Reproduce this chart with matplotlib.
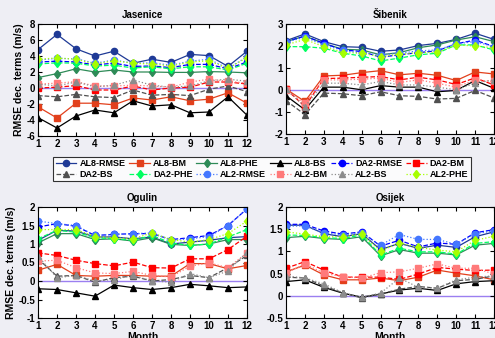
import matplotlib
matplotlib.use("Agg")
import matplotlib.pyplot as plt
from matplotlib.ticker import FormatStrFormatter

months = list(range(1, 13))

series_names = ["AL8-RMSE", "AL8-BM", "AL8-PHE", "AL8-BS",
                "DA2-RMSE", "DA2-BM", "DA2-BS", "DA2-PHE",
                "AL2-RMSE", "AL2-BM", "AL2-BS", "AL2-PHE"]

# values, one dict per station
jasenice = {
    "AL8-RMSE": [4.8, 6.7, 4.9, 4.0, 4.6, 3.1, 3.6, 3.2, 4.2, 4.05, 2.7, 4.6],
    "AL8-BM":   [-2.35, -3.75, -1.9, -1.9, -2.1, -1.25, -1.5, -1.1, -1.6, -1.4, -0.6, -1.9],
    "AL8-PHE":  [1.3, 1.8, 2.4, 2.0, 2.25, 2.0, 2.0, 1.95, 1.95, 2.05, 2.0, 1.9],
    "AL8-BS":   [-3.7, -5.0, -3.5, -2.75, -3.1, -1.6, -2.25, -2.1, -3.1, -3.0, -1.1, -3.4],
    "DA2-RMSE": [3.25, 3.35, 3.25, 2.9, 3.1, 2.7, 2.75, 2.55, 2.95, 2.95, 2.4, 3.25],
    "DA2-BM":   [0.0, 0.1, 0.3, -0.25, -0.25, 0.25, -0.25, 0.0, 0.1, 0.75, 0.75, 0.5],
    "DA2-BS":   [-0.95, -1.1, -0.8, -1.1, -1.2, -0.25, -0.9, -0.8, -0.95, -0.15, 0.25, -0.45],
    "DA2-PHE":  [3.0, 3.15, 3.1, 2.75, 2.85, 2.5, 2.65, 2.4, 2.65, 2.65, 2.25, 3.1],
    "AL2-RMSE": [3.5, 3.7, 3.65, 3.1, 3.5, 3.1, 3.15, 2.85, 3.35, 3.6, 2.45, 3.9],
    "AL2-BM":   [0.5, 0.6, 0.8, 0.25, 0.25, 0.35, 0.25, 0.1, 0.75, 1.1, 0.85, 0.6],
    "AL2-BS":   [0.5, 0.25, 0.75, 0.15, 0.35, 1.0, 0.35, 0.1, 0.25, 0.9, 1.1, 0.85],
    "AL2-PHE":  [3.6, 3.75, 3.6, 3.0, 3.4, 3.1, 3.0, 2.75, 3.25, 3.4, 2.45, 3.8],
}

sibenik = {
    "AL8-RMSE": [2.24, 2.55, 2.2, 1.97, 1.94, 1.76, 1.82, 2.02, 2.12, 2.3, 2.58, 2.3],
    "AL8-BM":   [0.04, -0.52, 0.64, 0.67, 0.79, 0.88, 0.69, 0.76, 0.67, 0.43, 0.82, 0.73],
    "AL8-PHE":  [2.2, 2.45, 2.12, 1.85, 1.82, 1.6, 1.7, 1.92, 2.05, 2.27, 2.42, 2.2],
    "AL8-BS":   [-0.26, -0.9, 0.13, 0.13, 0.01, 0.2, 0.13, 0.13, -0.08, -0.02, 0.43, 0.08],
    "DA2-RMSE": [2.2, 2.45, 2.12, 1.82, 1.75, 1.49, 1.6, 1.7, 1.78, 2.1, 2.27, 1.97],
    "DA2-BM":   [0.04, -0.75, 0.52, 0.54, 0.58, 0.61, 0.46, 0.58, 0.46, 0.25, 0.55, 0.23],
    "DA2-BS":   [-0.48, -1.12, -0.14, -0.17, -0.26, -0.08, -0.26, -0.29, -0.41, -0.38, -0.02, -0.36],
    "DA2-PHE":  [1.97, 1.97, 1.9, 1.67, 1.55, 1.32, 1.45, 1.6, 1.67, 2.05, 2.05, 1.82],
    "AL2-RMSE": [2.17, 2.4, 2.05, 1.8, 1.67, 1.6, 1.67, 1.78, 1.82, 2.1, 2.2, 1.97],
    "AL2-BM":   [-0.02, -0.6, 0.46, 0.46, 0.49, 0.54, 0.34, 0.46, 0.31, 0.13, 0.46, 0.39],
    "AL2-BS":   [0.04, -0.75, 0.31, 0.31, 0.23, 0.39, 0.23, 0.23, 0.13, 0.01, 0.31, 0.46],
    "AL2-PHE":  [2.05, 2.3, 1.97, 1.7, 1.67, 1.52, 1.62, 1.7, 1.72, 2.05, 2.0, 1.92],
}

ogulin = {
    "AL8-RMSE": [1.1, 1.37, 1.35, 1.19, 1.19, 1.14, 1.19, 1.0, 1.05, 1.1, 1.17, 1.2],
    "AL8-BM":   [0.29, 0.45, 0.15, 0.13, 0.15, 0.15, 0.13, 0.13, 0.47, 0.47, 0.33, 0.42],
    "AL8-PHE":  [1.03, 1.28, 1.28, 1.12, 1.14, 1.08, 1.17, 0.99, 0.96, 1.0, 1.12, 1.12],
    "AL8-BS":   [-0.21, -0.23, -0.32, -0.41, -0.11, -0.18, -0.23, -0.18, -0.09, -0.13, -0.18, -0.16],
    "DA2-RMSE": [1.46, 1.55, 1.48, 1.23, 1.26, 1.28, 1.28, 1.12, 1.17, 1.23, 1.5, 1.95],
    "DA2-BM":   [0.76, 0.69, 0.56, 0.47, 0.41, 0.51, 0.36, 0.35, 0.6, 0.6, 0.85, 1.21],
    "DA2-BS":   [0.6, 0.13, 0.15, -0.03, 0.09, 0.13, 0.0, 0.04, 0.15, 0.09, 0.36, 0.69],
    "DA2-PHE":  [1.14, 1.37, 1.32, 1.17, 1.14, 1.1, 1.23, 1.03, 0.96, 1.0, 1.19, 1.39],
    "AL2-RMSE": [1.62, 1.55, 1.5, 1.23, 1.26, 1.28, 1.3, 1.1, 1.14, 1.2, 1.5, 1.95],
    "AL2-BM":   [0.54, 0.56, 0.36, 0.22, 0.2, 0.26, 0.15, 0.11, 0.4, 0.49, 0.36, 0.76],
    "AL2-BS":   [0.67, 0.09, 0.15, 0.0, 0.04, 0.15, 0.0, -0.03, 0.2, 0.09, 0.27, 0.78],
    "AL2-PHE":  [1.39, 1.39, 1.39, 1.2, 1.17, 1.14, 1.3, 1.12, 1.05, 1.12, 1.28, 1.62],
}

osijek = {
    "AL8-RMSE": [1.59, 1.59, 1.4, 1.33, 1.4, 1.04, 1.18, 1.07, 1.14, 1.09, 1.33, 1.44],
    "AL8-BM":   [0.54, 0.69, 0.47, 0.36, 0.36, 0.4, 0.34, 0.42, 0.58, 0.51, 0.45, 0.36],
    "AL8-PHE":  [1.31, 1.34, 1.29, 1.27, 1.33, 0.9, 1.04, 0.96, 0.96, 0.92, 1.14, 1.18],
    "AL8-BS":   [0.32, 0.36, 0.19, 0.06, -0.03, 0.04, 0.13, 0.17, 0.12, 0.27, 0.32, 0.34],
    "DA2-RMSE": [1.61, 1.61, 1.46, 1.39, 1.44, 1.12, 1.25, 1.1, 1.19, 1.16, 1.42, 1.49],
    "DA2-BM":   [0.62, 0.77, 0.58, 0.42, 0.42, 0.42, 0.37, 0.49, 0.64, 0.6, 0.57, 0.58],
    "DA2-BS":   [0.42, 0.4, 0.22, 0.07, -0.05, 0.04, 0.15, 0.21, 0.17, 0.34, 0.37, 0.45],
    "DA2-PHE":  [1.37, 1.36, 1.31, 1.29, 1.37, 0.92, 1.07, 0.99, 0.99, 0.94, 1.18, 1.22],
    "AL2-RMSE": [1.57, 1.57, 1.42, 1.37, 1.42, 1.14, 1.38, 1.27, 1.27, 1.16, 1.4, 1.46],
    "AL2-BM":   [0.51, 0.72, 0.51, 0.43, 0.4, 0.52, 0.54, 0.62, 0.72, 0.62, 0.62, 0.49],
    "AL2-BS":   [0.45, 0.4, 0.27, 0.07, -0.03, 0.06, 0.4, 0.19, 0.17, 0.36, 0.42, 0.45],
    "AL2-PHE":  [1.44, 1.39, 1.33, 1.33, 1.39, 1.01, 1.19, 1.09, 1.03, 0.99, 1.25, 1.34],
}

# (color, linestyle, marker) per series
styles = {
    "AL8-RMSE": ("#1f3a96", "-", "o"),
    "AL8-BM":   ("#e2401c", "-", "s"),
    "AL8-PHE":  ("#2e8b57", "-", "d"),
    "AL8-BS":   ("#000000", "-", "^"),
    "DA2-RMSE": ("#0000ff", "--", "o"),
    "DA2-BM":   ("#ff0000", "--", "s"),
    "DA2-BS":   ("#505050", "--", "^"),
    "DA2-PHE":  ("#00ff60", "--", "d"),
    "AL2-RMSE": ("#4477ff", ":", "o"),
    "AL2-BM":   ("#ff7a7a", ":", "s"),
    "AL2-BS":   ("#8c8c8c", ":", "^"),
    "AL2-PHE":  ("#a6ff00", ":", "d"),
}

plt.rcParams["font.family"] = "Liberation Sans"
plt.rcParams["font.weight"] = "bold"
plt.rcParams["axes.unicode_minus"] = False

W, H = 495, 338
fig = plt.figure(figsize=(W / 100, H / 100), dpi=100, facecolor="#eeeef4")

def px_axes(x0, y0, x1, y1):
    return fig.add_axes([x0 / W, 1 - y1 / H, (x1 - x0) / W, (y1 - y0) / H])

panels = [
    (jasenice, "Jasenice", (38, 24, 247, 136), (-6, 8), 2, True, False),
    (sibenik, "Šibenik", (286, 24, 494, 134), (-2, 3), 1, False, False),
    (ogulin, "Ogulin", (38, 207, 247, 318), (-1, 2), 0.5, True, True),
    (osijek, "Osijek", (286, 207, 494, 318), (-0.5, 2), 0.5, False, True),
]

handles = []
for data, title, box, ylim, step, ylab, xlab in panels:
    ax = px_axes(*box)
    ax.set_facecolor("white")
    ax.plot([1, 12], [0, 0], color="#9b7ff0", lw=1.0, zorder=1)
    hs = []
    for name in series_names:
        c, ls, m = styles[name]
        h, = ax.plot(months, data[name], color=c, ls=ls, marker=m, ms=4.5,
                     mec=c, mfc=c, lw=0.9, label=name)
        hs.append(h)
    if not handles:
        handles = hs
    ax.set_xlim(1, 12)
    ax.set_ylim(*ylim)
    ax.set_xticks(months)
    yt = []
    v = ylim[0]
    while v <= ylim[1] + 1e-9:
        yt.append(v)
        v += step
    ax.set_yticks(yt)
    ax.yaxis.set_major_formatter(FormatStrFormatter("%g"))
    ax.tick_params(direction="in", top=True, right=True, length=3, width=0.8,
                   labelsize=7, pad=2)
    for lab in ax.get_xticklabels() + ax.get_yticklabels():
        lab.set_fontweight("bold")
    for sp in ax.spines.values():
        sp.set_linewidth(0.8)
    ax.set_title(title, fontsize=7, fontweight="bold", pad=4)
    if ylab:
        ax.set_ylabel("RMSE dec. terms (m/s)", fontsize=7.5, fontweight="bold",
                      labelpad=2)
    if xlab:
        ax.set_xlabel("Month", fontsize=7.5, fontweight="bold", labelpad=1)

# legend filled row by row, 6 columns
order = [handles[r * 6 + c] for c in range(6) for r in range(2)]
leg = fig.legend(order, [h.get_label() for h in order], ncol=6,
                 loc="center", bbox_to_anchor=((55 + 469) / 2 / W, 1 - 169 / H),
                 prop={"size": 6.5, "weight": "bold", "family": "Liberation Sans"},
                 frameon=True, fancybox=False, edgecolor="black",
                 handlelength=2.3, handletextpad=0.35, columnspacing=0.4,
                 labelspacing=0.15, borderpad=0.25, borderaxespad=0)
leg.get_frame().set_linewidth(0.8)

fig.savefig("out.png", dpi=100, facecolor=fig.get_facecolor())
